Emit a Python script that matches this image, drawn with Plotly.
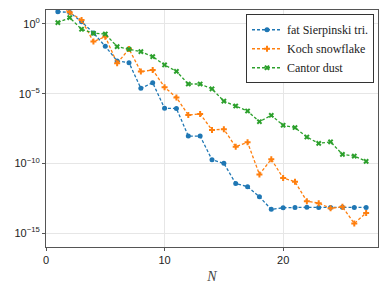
import plotly.graph_objects as go

N = list(range(1, 28))

sierpinski = [7.6, 6.7, 1.46, 0.226, 0.025, 2.2e-3, 1.67e-3, 2.4e-5, 6.1e-5, 8.9e-7,
              8.6e-7, 9.1e-9, 9.0e-9, 1.8e-10, 1.0e-10, 3.6e-12, 2.1e-12, 4.0e-13, 5.0e-14,
              6.5e-14, 6.9e-14, 7.0e-14, 6.9e-14, 6.8e-14, 7.0e-14, 6.9e-14, 6.9e-14]

koch = [22.0, 6.9, 1.94, 0.054, 0.122, 1.5e-3, 0.016, 3.8e-4, 5.0e-4, 2.9e-5,
        5.3e-6, 2.9e-7, 3.5e-7, 2.5e-8, 2.8e-8, 1.55e-9, 3.2e-9, 1.6e-11, 2.0e-10,
        8.8e-12, 4.8e-12, 1.9e-13, 1.4e-13, 5.9e-14, 7.6e-14, 4.9e-15, 2.8e-14]

cantor = [1.24, 2.83, 0.417, 0.215, 0.191, 0.0235, 0.0153, 0.0103, 4.5e-3, 1.15e-3,
          4.0e-4, 4.9e-5, 4.9e-5, 2.2e-5, 2.9e-6, 1.3e-6, 5.7e-7, 9.7e-8, 2.8e-7,
          5.4e-8, 3.7e-8, 7.7e-9, 2.7e-9, 3.5e-9, 4.4e-10, 3.3e-10, 1.4e-10]

names = ["fat Sierpinski tri.", "Koch snowflake", "Cantor dust"]
colors = ["#1f77b4", "#ff7f0e", "#2ca02c"]
symbols = ["circle", "cross", "x"]

y_tickvals = [1, 1e-5, 1e-10, 1e-15]
y_ticktext = ["10<sup>0</sup>", "10<sup>−5</sup>", "10<sup>−10</sup>", "10<sup>−15</sup>"]
x_tickvals = [0, 10, 20]

fig = go.Figure()
for vals, name, c, s in zip([sierpinski, koch, cantor], names, colors, symbols):
    fig.add_trace(go.Scatter(
        x=N, y=vals, name=name, mode="lines+markers",
        line=dict(color=c, width=1.3, dash="3px,2px"),
        marker=dict(symbol=s, size=5, color=c, line=dict(width=0)),
    ))

axis_common = dict(
    showline=True, linecolor="#555555", linewidth=1, mirror=True,
    showgrid=True, gridcolor="#e6e6e6", gridwidth=1,
    ticks="outside", ticklen=3, tickcolor="#555555", zeroline=False,
    automargin=False,
    tickfont=dict(family="Liberation Sans", size=11, color="#222222"),
)

fig.update_xaxes(range=[0, 28], tickvals=x_tickvals,
                 title=dict(text="<i>N</i>", font=dict(family="Liberation Serif", size=14, color="#444444"), standoff=8),
                 **axis_common)
fig.update_yaxes(type="log", range=[-16, 1], tickvals=y_tickvals, ticktext=y_ticktext,
                 **axis_common)

# page body has an 8px default margin; compensate so the plot lands where the reference has it
fig.update_layout(
    width=373, height=276,
    margin=dict(l=38, r=3, t=2, b=37),
    plot_bgcolor="white", paper_bgcolor="white",
    legend=dict(x=0.988, y=0.982, xanchor="right", yanchor="top",
                bordercolor="#333333", borderwidth=1, bgcolor="white",
                font=dict(family="Liberation Serif, Times New Roman, serif", size=12, color="#222222"),
                tracegroupgap=0, itemwidth=30),
)

fig.write_html("out.html")
